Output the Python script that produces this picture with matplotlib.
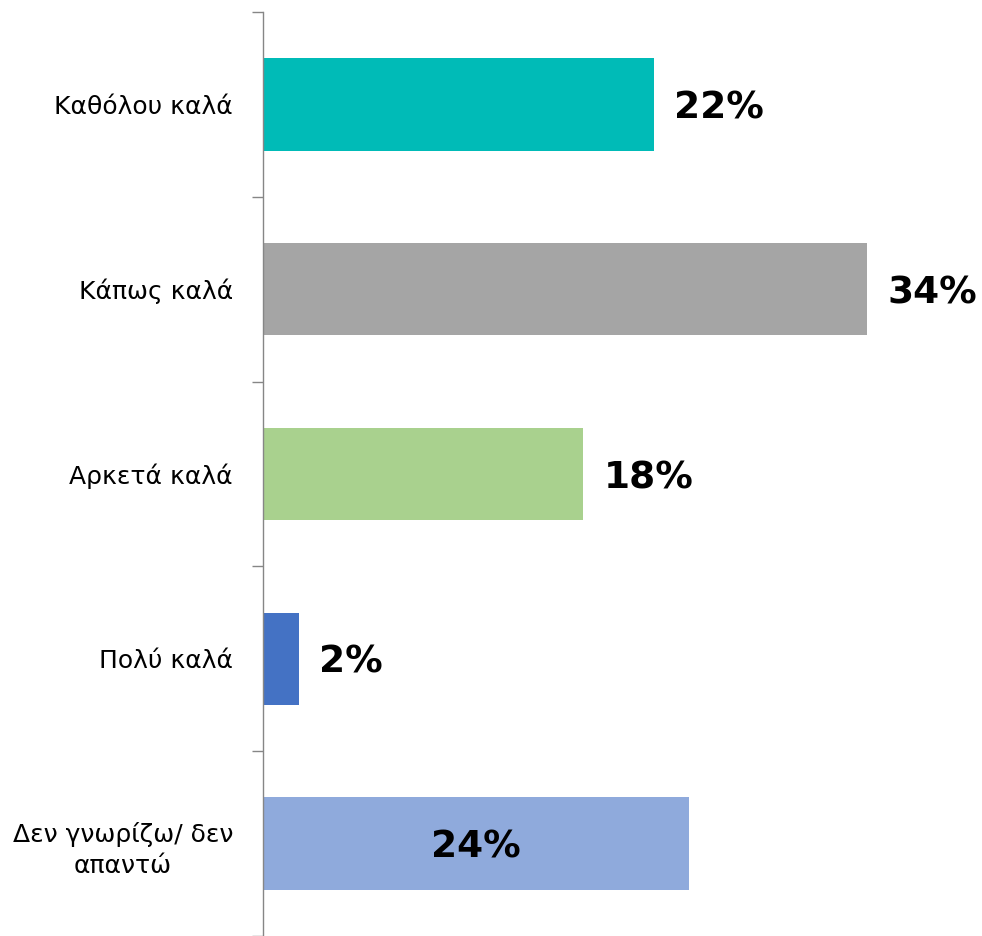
import matplotlib
matplotlib.use("Agg")
import matplotlib.pyplot as plt

categories = ["Καθόλου καλά", "Κάπως καλά", "Αρκετά καλά", "Πολύ καλά", "Δεν γνωρίζω/ δεν\nαπαντώ"]
values = [22, 34, 18, 2, 24]
labels = ["22%", "34%", "18%", "2%", "24%"]
colors = ["#00BBB7", "#A5A5A5", "#A9D18E", "#4472C4", "#8FAADC"]

plt.rcParams['font.family'] = ['DejaVu Sans']
fig = plt.figure(figsize=(9.82, 9.36), dpi=100)
ax = fig.add_axes([263/982, 0, 1 - 263/982, 1 - 12/936])

y = list(range(len(categories)))
ax.barh(y, values, height=0.5, color=colors)
ax.set_ylim(4.5, -0.5)
ax.set_xlim(0, 719/17.75)

for i, (v, lab) in enumerate(zip(values, labels)):
    if i == len(values) - 1:
        ax.annotate(lab, (v / 2, i), xytext=(0, -3), textcoords="offset points",
                    ha="center", va="center", fontsize=27, fontweight="bold", color="black")
    else:
        ax.annotate(lab, (v, i), xytext=(15, -3), textcoords="offset points",
                    ha="left", va="center", fontsize=27, fontweight="bold", color="black")

ax.set_yticks(y)
ax.set_yticklabels(categories, fontsize=18, color="#000000", ha="right")
ax.tick_params(axis="y", which="major", length=0, pad=30 * 72 / 100)
for t in ax.get_yticklabels():
    t.set_multialignment("center")
    t.set_linespacing(1.4)
ax.set_yticks([i - 0.5 for i in range(len(categories) + 1)], minor=True)
ax.tick_params(axis="y", which="minor", length=8, color="#868686", width=1)
ax.set_xticks([])
for s in ["top", "right", "bottom"]:
    ax.spines[s].set_visible(False)
ax.spines["left"].set_color("#868686")
ax.spines["left"].set_linewidth(1)

fig.savefig("out.png", dpi=100)
